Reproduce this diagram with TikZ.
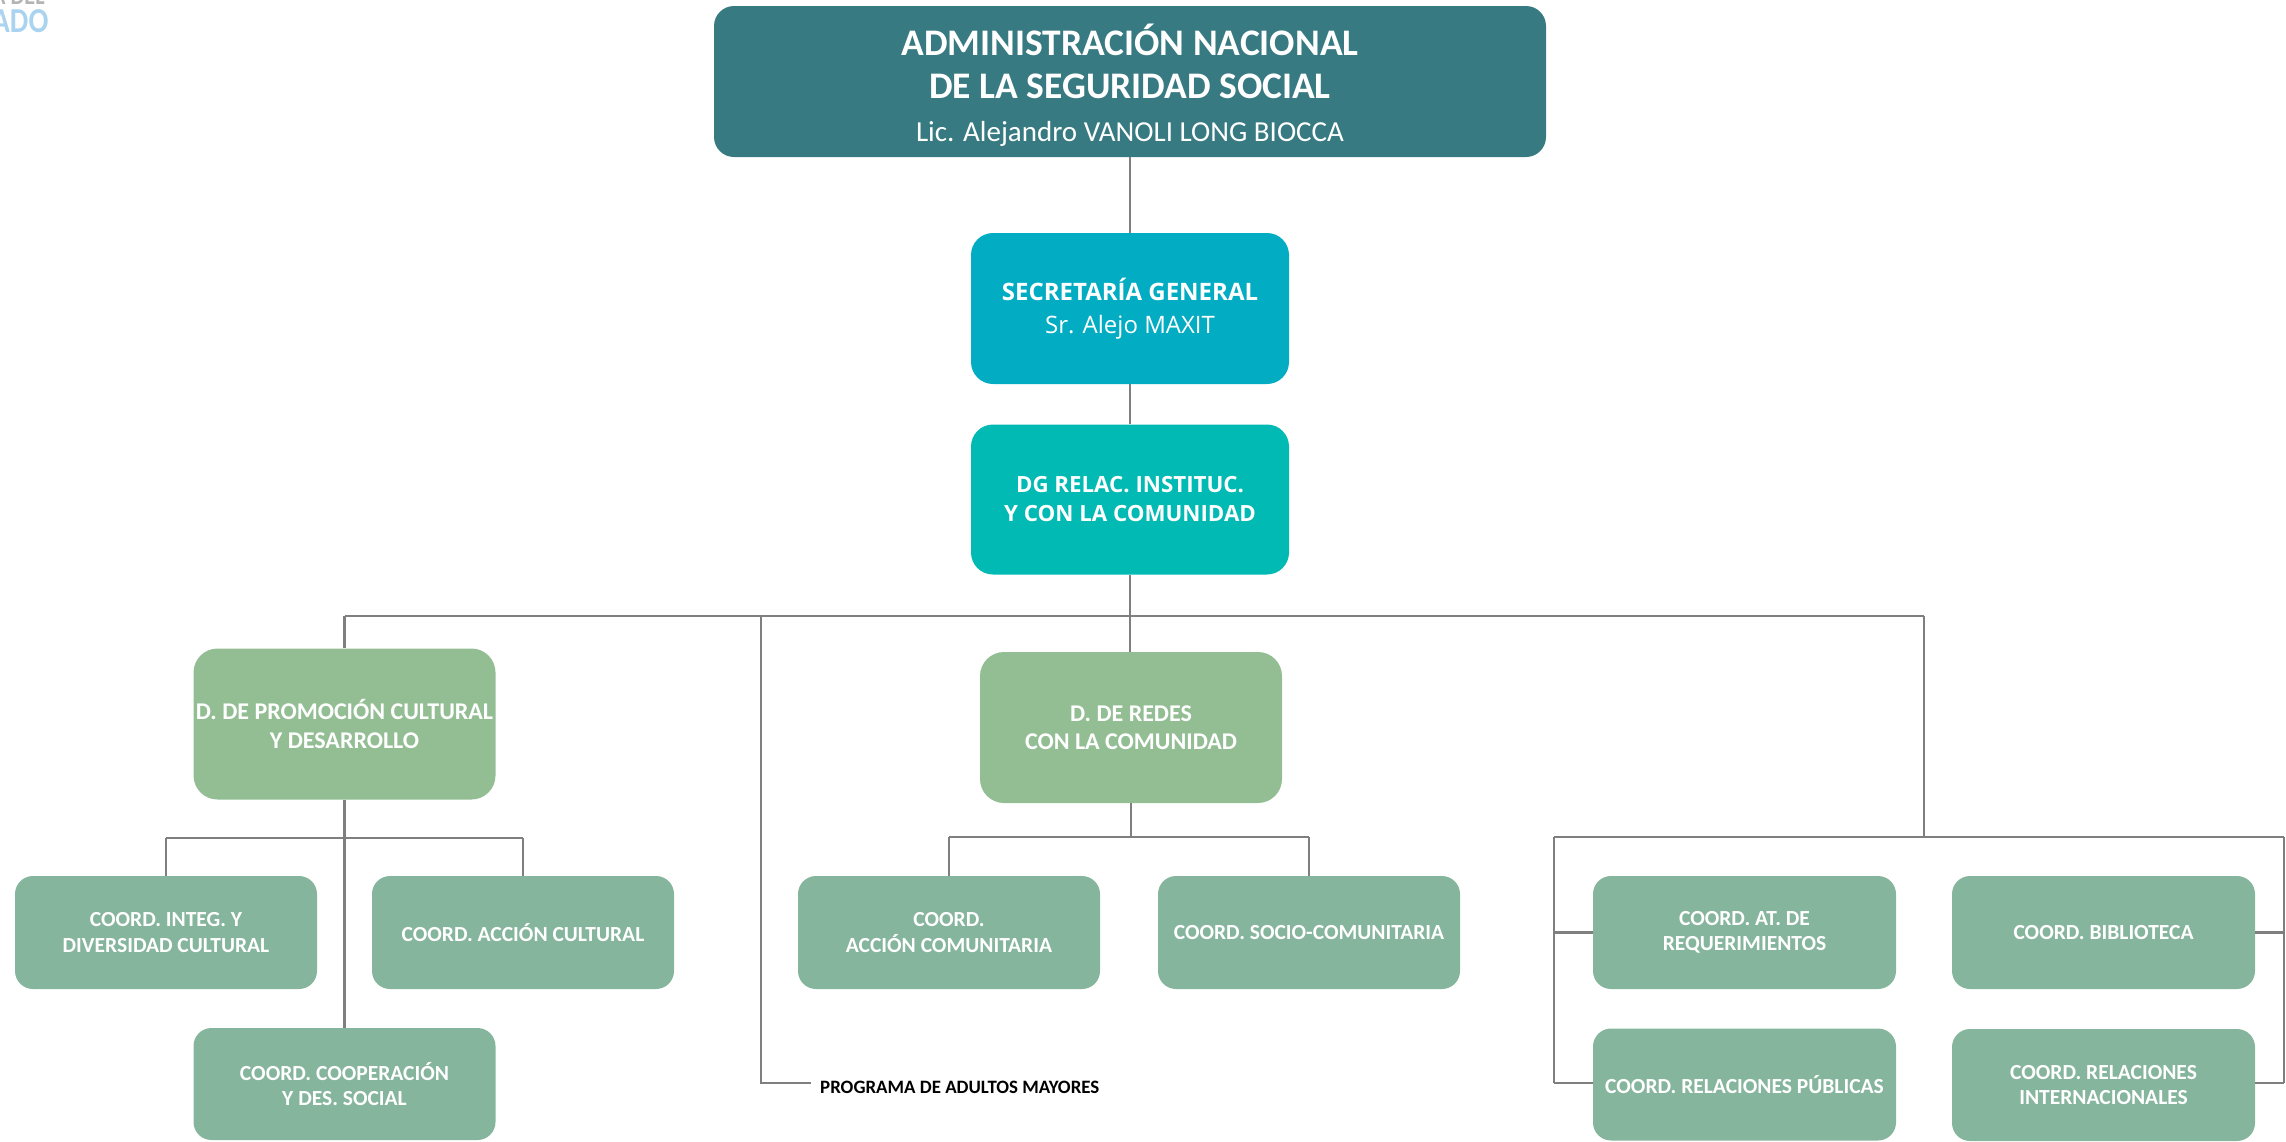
\documentclass[tikz,border=0pt]{standalone}
\usepackage{fontspec}
\setmainfont{Carlito}
\newfontfamily\osans{Open Sans}
\definecolor{cTop}{HTML}{387A81}
\definecolor{cSec}{HTML}{02ADC3}
\definecolor{cDG}{HTML}{00BAB3}
\definecolor{cDir}{HTML}{93BE94}
\definecolor{cCoord}{HTML}{86B59D}
\definecolor{cLine}{HTML}{7F7F7F}
\definecolor{cLogo}{HTML}{A9D3EF}
\definecolor{cLogoG}{HTML}{B4B4B4}
\tikzset{
  box/.style={rounded corners=#1, text=white, align=center, inner sep=0pt, draw=none},
  topbox/.style={box=20pt, fill=cTop, minimum width=832pt, minimum height=151pt},
  secbox/.style={box=22pt, fill=cSec, minimum width=318pt, minimum height=151pt},
  dgbox/.style={box=22pt, fill=cDG, minimum width=318pt, minimum height=150pt},
  dirbox/.style={box=24pt, fill=cDir, minimum width=302pt, minimum height=151pt,
     font=\bfseries\fontsize{24}{28.5}\selectfont},
  coordbox/.style={box=18pt, fill=cCoord, minimum width=302pt, minimum height=113pt,
     font=\bfseries\fontsize{21.5}{25.5}\selectfont},
  conn/.style={draw=cLine, line width=2.2pt},
}
\begin{document}
\begin{tikzpicture}[x=1pt,y=-1pt]
\useasboundingbox (0,0) rectangle (2286,1141);
% logo fragment
\node[anchor=south west, inner sep=0pt, text=cLogoG, font=\bfseries\fontsize{26}{26}\selectfont, transform shape, xscale=0.85] (logoA) at (-8,5) {A DEL};
\node[anchor=south west, inner sep=0pt, text=cLogo, font=\bfseries\fontsize{35}{35}\selectfont, transform shape, xscale=0.84] (logoB) at (-8,33) {ADO};

% nodes
\node[topbox, font=\bfseries\fontsize{37.5}{43}\selectfont] (ansn) at (1130,81.5) {\rule{0pt}{38pt}ADMINISTRACIÓN NACIONAL\\DE LA SEGURIDAD SOCIAL\\\mdseries\fontsize{29}{36}\selectfont Lic. Alejandro VANOLI LONG BIOCCA};
\node[secbox, font=\osans\bfseries\fontsize{24}{33}\selectfont] (sec) at (1130,308.5) {SECRETARÍA GENERAL\\\mdseries Sr. Alejo MAXIT};
\node[dgbox, font=\osans\bfseries\fontsize{22.3}{29}\selectfont] (dg) at (1130,499.5) {DG RELAC. INSTITUC.\\Y CON LA COMUNIDAD};

\node[dirbox] (dpc) at (344.5,724) {D. DE PROMOCIÓN CULTURAL\\Y DESARROLLO};
\node[dirbox] (dred) at (1131,727.5) {D. DE REDES\\CON LA COMUNIDAD};

\node[coordbox] (cint) at (166,932.5) {COORD. INTEG. Y\\DIVERSIDAD CULTURAL};
\node[coordbox] (cacc) at (523,932.5) {COORD. ACCIÓN CULTURAL};
\node[coordbox, minimum height=112pt] (ccoop) at (344.5,1084) {COORD. COOPERACIÓN\\Y DES. SOCIAL};

\node[coordbox] (cacom) at (949,932.5) {COORD.\\ACCIÓN COMUNITARIA};
\node[coordbox] (csoc) at (1309,932.5) {COORD. SOCIO-COMUNITARIA};

\node[coordbox, minimum width=303pt] (catr) at (1744.5,932.5) {COORD. AT. DE\\REQUERIMIENTOS};
\node[coordbox, minimum width=303pt] (cbib) at (2103.5,932.5) {COORD. BIBLIOTECA};
\node[coordbox, minimum width=303pt, minimum height=112pt] (crp) at (1744.5,1084.5) {COORD. RELACIONES PÚBLICAS};
\node[coordbox, minimum width=303pt, minimum height=112pt] (cri) at (2103.5,1085) {COORD. RELACIONES\\INTERNACIONALES};

\node[anchor=west, inner sep=0pt, font=\bfseries\fontsize{18.9}{20}\selectfont] (prog) at (820,1087) {PROGRAMA DE ADULTOS MAYORES};

% coordinates for buses
\coordinate (busC) at (1130,616);
\coordinate (busL) at (344.5,616);
\coordinate (busR) at (1924,616);
\coordinate (busP) at (761,616);
\coordinate (progC) at (761,1083);
\coordinate (progE) at (811,1083);
\coordinate (sbL) at (166,838);
\coordinate (sbR) at (523,838);
\coordinate (srL) at (949,837);
\coordinate (srR) at (1309,837);
\coordinate (srC) at (1131,837);
\coordinate (rbC) at (1924,837);
\coordinate (rbL) at (1554,837);
\coordinate (rbR) at (2284,837);
\coordinate (rbLb) at (1554,1083);
\coordinate (rbRb) at (2284,1083);

% connectors
\draw[conn] (ansn.south) -- (sec.north);
\draw[conn] (sec.south) -- (dg.north);
\draw[conn] (dg.south) -- (busC);
\draw[conn] (busL) -- (busR);
\draw[conn] (busL) -- (dpc.north);
\draw[conn] (busC) -- (dred.north -| busC);
\draw[conn] (busP) -- (progC) -- (progE);
\draw[conn] (busR) -- (rbC);

\draw[conn] (dpc.south) -- (ccoop.north);
\draw[conn] (sbL) -- (sbR);
\draw[conn] (sbL) -- (cint.north);
\draw[conn] (sbR) -- (cacc.north);

\draw[conn] (dred.south) -- (srC);
\draw[conn] (srL) -- (srR);
\draw[conn] (srL) -- (cacom.north);
\draw[conn] (srR) -- (csoc.north);

\draw[conn] (rbL) -- (rbR);
\draw[conn] (rbL) -- (rbLb);
\draw[conn] (rbR) -- (rbRb);
\draw[conn] (catr.west) -- (catr.west -| rbL);
\draw[conn] (crp.west |- rbLb) -- (rbLb);
\draw[conn] (cbib.east) -- (cbib.east -| rbR);
\draw[conn] (cri.east |- rbRb) -- (rbRb);
\end{tikzpicture}
\end{document}
